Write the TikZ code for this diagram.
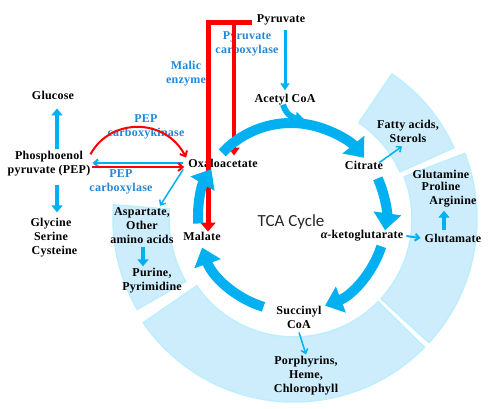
\documentclass[tikz,border=0pt]{standalone}
\usepackage{fontspec}
\setmainfont[LetterSpace=2.0]{Liberation Serif}
\newfontfamily\calfont{Carlito}
\usetikzlibrary{arrows.meta,calc}
\definecolor{cyanA}{RGB}{0,176,240}
\definecolor{redA}{RGB}{255,0,0}
\definecolor{txtblue}{RGB}{35,135,215}
\definecolor{ringfill}{RGB}{205,237,252}
\definecolor{ringedge}{RGB}{190,238,252}
\begin{document}
\begin{tikzpicture}[x=1pt,y=-1pt,
 lbl/.style={font=\bfseries\fontsize{12}{14}\selectfont, align=center, inner sep=0pt, text=black},
 blbl/.style={lbl, text=txtblue},
 fatarrow/.style={draw=cyanA, line width=4.5pt, -{Triangle[width=11pt,length=7pt]}},
 thinarrow/.style={draw=cyanA, line width=1.5pt, -{Straight Barb[width=7pt,length=4pt]}},
 cyc/.style={draw=cyanA, line width=10pt, -{Triangle[width=27pt,length=17pt]}},
 seg/.style={fill=ringfill, draw=ringedge, line width=1.5pt},
 redpath/.style={draw=redA, line width=5pt, line join=miter},
]
\useasboundingbox (0,0) rectangle (491,408);

% outer ring segments
\begin{scope}[shift={(294,219)}, y=1pt]
\path[seg] (24:116) arc[start angle=24,end angle=56,radius=116] -- (56:175) arc[start angle=56,end angle=24,radius=175] -- cycle;
\path[seg] (-42.5:118) arc[start angle=-42.5,end angle=21,radius=118] -- (21:183) arc[start angle=21,end angle=-42.5,radius=183] -- cycle;
\path[seg] (214.5:118) arc[start angle=214.5,end angle=315.5,radius=118] -- (315.5:183) arc[start angle=315.5,end angle=214.5,radius=183] -- cycle;
\path[seg] (175.5:125) arc[start angle=175.5,end angle=210,radius=125] -- (210:181) arc[start angle=210,end angle=175.5,radius=181] -- cycle;
\end{scope}

% nodes
\node[lbl] (pyr) at (281,20) {Pyruvate};
\node[blbl] (pyrc) at (247,44) {Pyruvate\\carboxylase};
\node[blbl] (malic) at (186,74) {Malic\\enzyme};
\node[lbl] (acoa) at (285,100) {Acetyl CoA};
\node[lbl] (glc) at (53,95) {Glucose};
\node[lbl] (pep) at (49,164) {Phosphoenol\\pyruvate (PEP)};
\node[lbl] (gly) at (51,238) {Glycine\\Serine\\\hspace*{7pt}Cysteine};
\node[blbl] (pepck) at (146,127) {PEP\\carboxykinase};
\node[blbl] (pepc) at (121,182) {PEP\\carboxylase};
\node[lbl] (oaa) at (223,163) {Oxaloacetate};
\node[lbl] (asp) at (142,226) {Aspartate,\\Other\\amino acids};
\node[lbl] (pur) at (152,281) {Purine,\\Pyrimidine};
\node[lbl] (mal) at (202,236) {Malate};
\node[font=\calfont\fontsize{17}{20}\selectfont, text={black!85}, inner sep=0pt] (tca) at (291,222) {TCA Cycle};
\node[lbl] (akg) at (362,236) {{\itshape α}-ketoglutarate};
\node[lbl] (glu) at (453,238) {Glutamate};
\node[lbl, font=\bfseries\fontsize{12}{12}\selectfont] (gln) at (441,180) {Glutamine\\Proline};
\node[lbl] (arg) at (453,202) {Arginine};
\node[lbl] (cit) at (364,165) {Citrate};
\node[lbl] (fat) at (408,131) {Fatty acids,\\Sterols};
\node[lbl] (suc) at (299,317) {Succinyl\\CoA};
\node[lbl] (por) at (306,376) {Porphyrins,\\Heme,\\Chlorophyll};

% red pathways (malic enzyme, pyruvate carboxylase)
\coordinate (rtop) at (252,22.5);
\coordinate (rin) at (234,22.5);
\draw[redpath, -{Triangle[width=15pt,length=9pt]}] (rtop) -| ($(mal.north)+(6,0)$);
\draw[redpath, line width=4.5pt, -{Triangle[width=11pt,length=8pt]}] (rin) -- ($(oaa.north -| rin)+(0,-3)$);

% TCA cycle arrows
\begin{scope}[shift={(291,217)}, y=1pt]
\draw[cyc] (137:94) arc[start angle=137, end angle=39, radius=94];
\draw[cyc] (24:95) arc[start angle=24, end angle=-8, radius=95];
\draw[cyc] (-18:95) arc[start angle=-18, end angle=-69, radius=95];
\draw[cyc] (-107:94) arc[start angle=-107, end angle=-161, radius=94];
\draw[cyc] (184:93) arc[start angle=184, end angle=149, radius=93];
\end{scope}
\draw[draw=cyanA, line width=6pt, -{Triangle[width=13pt,length=8pt]}] ($(acoa.south)+(-2,-1)$) .. controls (286,114) and (292,118) .. (304,119);

% straight connectors
\draw[draw=cyanA, line width=3pt, -{Triangle[width=9pt,length=7pt]}] ($(pyr.south -| acoa.north)+(0,5)$) -- ($(acoa.north)+(0,-4)$);
\draw[fatarrow] ($(pep.north)+(8,-2)$) -- ($(glc.south)+(4,9)$);
\draw[fatarrow] ($(pep.south)+(8,8)$) -- ($(gly.north)+(6,-6)$);
\draw[fatarrow] ($(asp.south)+(1,3)$) -- ($(pur.north)+(-9,-2)$);
\draw[fatarrow] ($(glu.north)+(-9,-4)$) -- ($(arg.south)+(-9,3)$);
\draw[thinarrow] ($(suc.south)+(0,4)$) -- ($(por.north)+(0,-2)$);
\draw[thinarrow, line width=2pt] ($(akg.east)+(3,0)$) -- ($(glu.west)+(-4,0)$);
\draw[thinarrow] ($(cit.north east)+(-4,2)$) -- ($(fat.south)+(-6,4)$);
\draw[thinarrow] ($(oaa.south west)+(-5,2)$) -- ($(asp.north)+(18,-2)$);

% PEP <-> oxaloacetate
\draw[thinarrow, line width=2pt] ($(oaa.west)+(-5,0)$) -- ($(pep.east)+(2,-1)$);
\draw[draw=redA, line width=2pt, -{Straight Barb[width=8pt,length=4.5pt]}] ($(pep.east)+(2,3)$) -- ($(oaa.west)+(-4,4)$);
\draw[draw=redA, line width=2pt, -{Straight Barb[width=8pt,length=4.5pt]}] ($(pep.north east)+(0,3)$) .. controls (110,118) and (165,117) .. ($(oaa.north west)+(-2,-1)$);
\end{tikzpicture}
\end{document}
